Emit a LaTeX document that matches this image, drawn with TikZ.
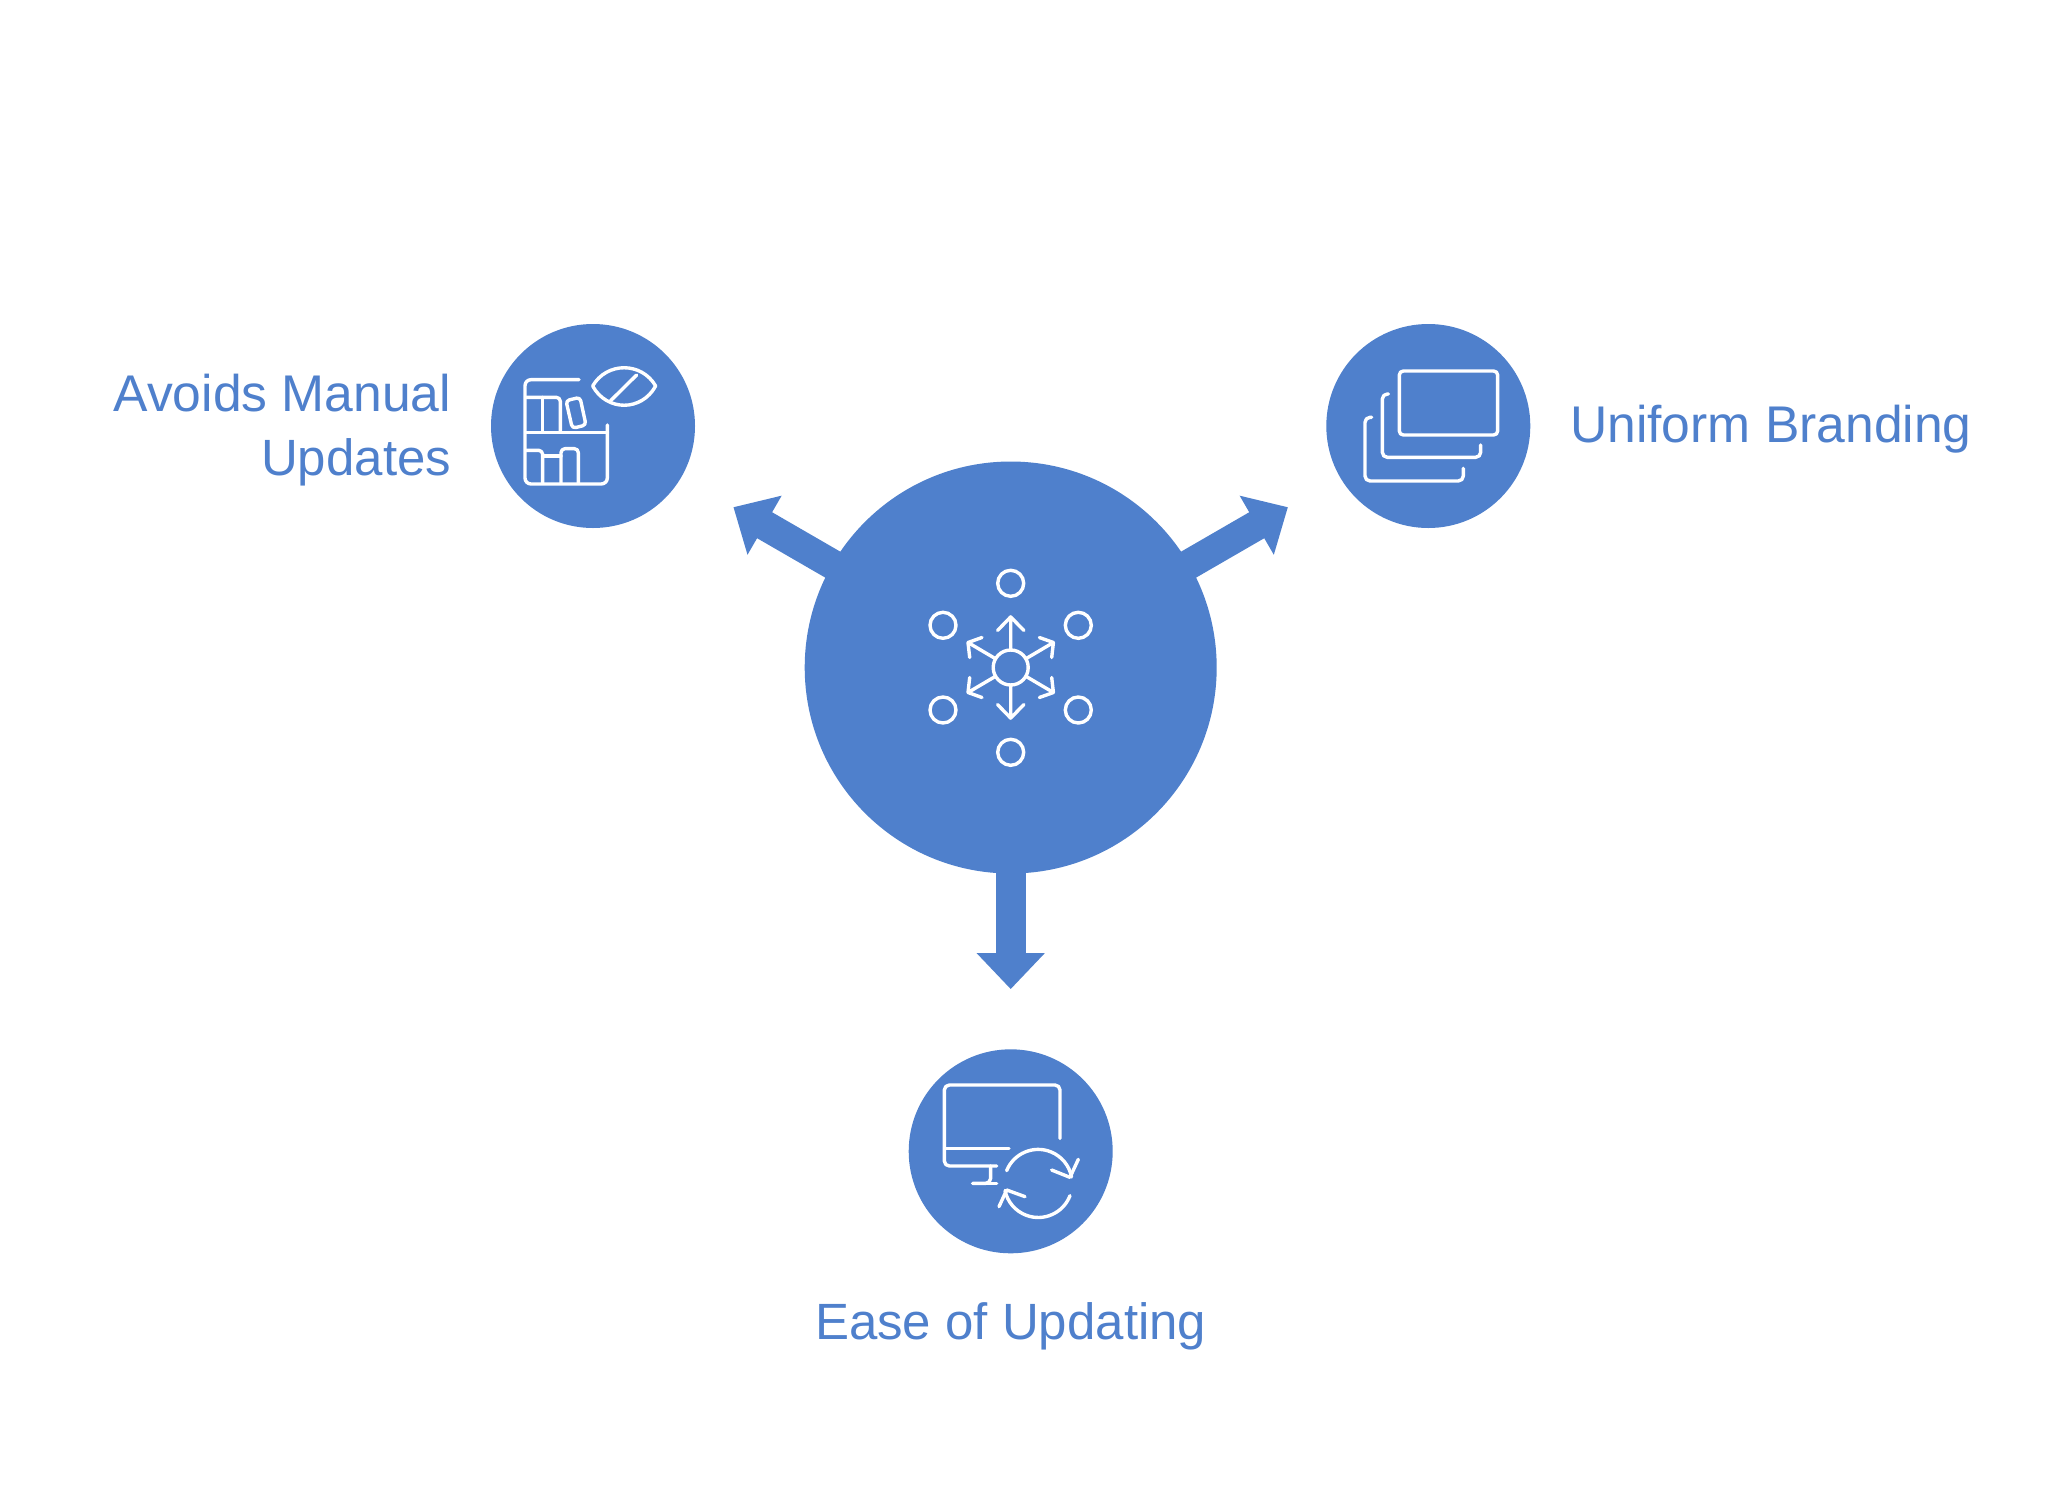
\documentclass[tikz,border=0pt]{standalone}
\usepackage{fontspec}
\setmainfont{Liberation Sans}
\usetikzlibrary{arrows.meta}
\definecolor{brand}{HTML}{4F80CC}
\tikzset{
  x=1pt,y=-1pt,
  hubnode/.style={circle,fill=brand,minimum size=412pt,inner sep=0pt},
  satnode/.style={circle,fill=brand,minimum size=204pt,inner sep=0pt},
  spoke/.style={draw=brand,line width=30pt,-{Triangle[length=36pt,width=66pt]},shorten >=60pt,shorten <=-12pt},
  label/.style={text=brand,inner sep=0pt,font=\fontsize{51.6}{62.6}\selectfont},
  labelsmall/.style={text=brand,inner sep=0pt,font=\fontsize{51}{62.6}\selectfont},
  glyph/.style={draw=white,line width=3.4pt,line cap=round,line join=round},
  smalldot/.style={circle,draw=white,line width=3.4pt,minimum size=26pt,inner sep=0pt},
  zoomed/.style={x=0.3333pt,y=-0.3333pt}
}
\begin{document}
\begin{tikzpicture}
\useasboundingbox (0,0) rectangle (2048,1497);
\fill[white] (0,0) rectangle (2048,1497);
\node[hubnode] (hub) at (1010.7,667.5) {};
\node[satnode] (sl) at (593,426) {};
\node[satnode] (sr) at (1428.3,426) {};
\node[satnode] (sb) at (1010.7,1151.3) {};
\draw[spoke] (hub) -- (sl);
\draw[spoke] (hub) -- (sr);
\draw[spoke] (hub) -- (sb);
% hub icon
\node[smalldot,minimum size=35pt] (core) at (hub.center) {};
\node[smalldot] (d1) at (1010.7,583.3) {};
\node[smalldot] (d2) at (943,625.3) {};
\node[smalldot] (d3) at (1078.3,625.3) {};
\node[smalldot] (d4) at (943,710) {};
\node[smalldot] (d5) at (1078.3,710) {};
\node[smalldot] (d6) at (1010.7,752.3) {};
\begin{scope}[shift={(hub.center)}]
  \draw[glyph] (0,-17.5) -- (0,-50.6) (-13.2,-37) -- (0,-50.6) -- (13.2,-37);
  \draw[glyph] (0,17.5) -- (0,50.6) (-13.2,37) -- (0,50.6) -- (13.2,37);
  \foreach \sx/\sy in {1/1,-1/1,1/-1,-1/-1}{
    \begin{scope}[xscale=\sx,yscale=\sy]
      \draw[glyph] (15.2,-8.8) -- (42.7,-25) (28.7,-30) -- (42.7,-25) -- (41,-10);
    \end{scope}
  }
\end{scope}
% left icon
\begin{scope}[xshift=480pt,yshift=-310pt,zoomed]
  \draw[glyph,rounded corners=6pt] (297,209) -- (135,209) -- (135,522) -- (382,522) -- (382,345);
  \draw[glyph] (137,367) -- (382,367);
  \draw[glyph,rounded corners=4pt] (137,262) -- (241,262) -- (241,362);
  \draw[glyph] (188,262) -- (188,365);
  \draw[glyph,rounded corners=3.5pt] (258,272) -- (300,262) -- (318,345) -- (277,355) -- cycle;
  \draw[glyph,rounded corners=4pt] (137,421) -- (188,421) -- (188,520);
  \draw[glyph] (188,438) -- (243,438);
  \draw[glyph,rounded corners=4pt] (243,520) -- (243,416) -- (295,416) -- (295,520);
  \draw[glyph] (338,228) .. controls (380,155) and (485,155) .. (527,228) .. controls (485,305) and (380,305) .. (338,228);
  \draw[glyph] (392,272) -- (470,195);
\end{scope}
% right icon
\begin{scope}[xshift=1320pt,yshift=-310pt,zoomed]
  \draw[glyph,rounded corners=4pt] (238,183) rectangle (533,375);
  \draw[glyph,rounded corners=5pt] (205,252) -- (187,252) -- (187,442) -- (482,442) -- (482,405);
  \draw[glyph,rounded corners=5pt] (155,322) -- (135,322) -- (135,513) -- (430,513) -- (430,475);
\end{scope}
% bottom icon
\begin{scope}[xshift=900pt,yshift=-1040pt,zoomed]
  \draw[glyph,rounded corners=5pt] (480,295) -- (480,135) -- (133,135) -- (133,378) -- (290,378);
  \draw[glyph] (135,325) -- (327,325);
  \draw[glyph,rounded corners=5pt] (272,378) -- (272,430) -- (218,430);
  \draw[glyph] (218,430) -- (290,430);
  \draw[glyph] (320,392) arc[start angle=158,end angle=11,radius=34pt];
  \draw[glyph] (535,358) -- (510,412) -- (455,390);
  \draw[glyph] (510,467) arc[start angle=-21,end angle=-168,radius=34pt];
  \draw[glyph] (297,500) -- (320,450) -- (375,470);
\end{scope}
% labels
\node[label,anchor=base east] (t1a) at (451.3,411.4) {Avoids Manual};
\node[labelsmall,anchor=base east] (t1b) at (451.3,475) {Updates};
\node[label,anchor=base west] (t2) at (1570,442.7) {Uniform Branding};
\node[labelsmall,anchor=base] (t3) at (1010.7,1339) {Ease of Updating};
\end{tikzpicture}
\end{document}
